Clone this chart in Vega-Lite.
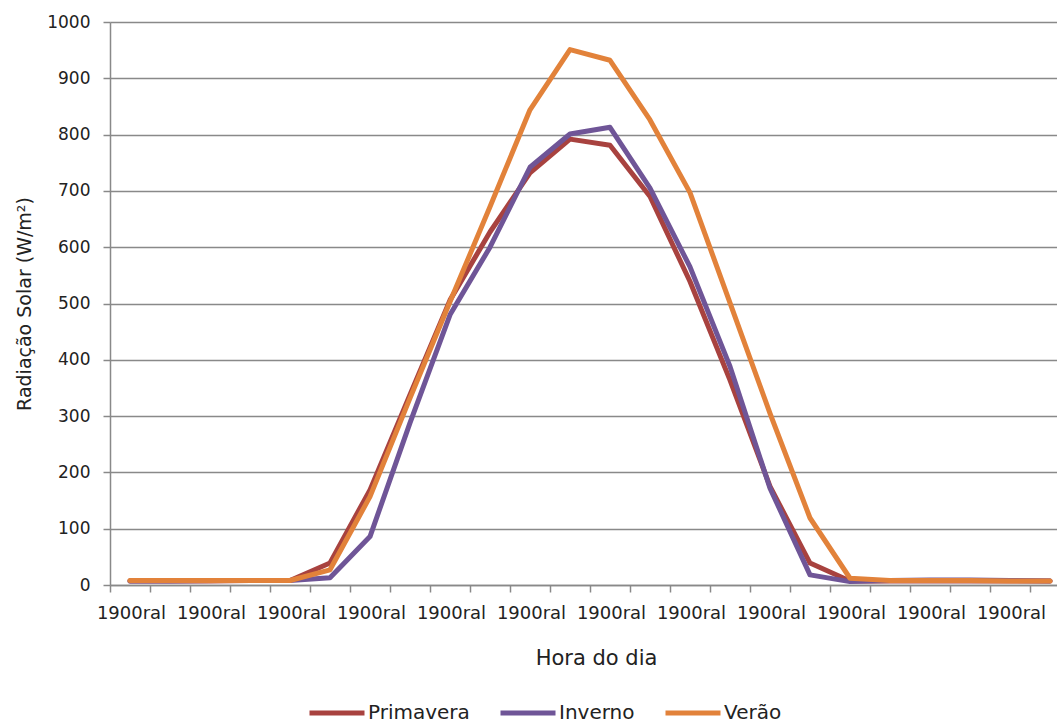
{
  "$schema": "https://vega.github.io/schema/vega-lite/v6.json",
  "width": 947,
  "height": 563,
  "autosize": {"type": "none"},
  "padding": {"left": 110, "top": 22, "right": 0, "bottom": 139},
  "background": "white",
  "config": {
    "font": "DejaVu Sans",
    "view": {"stroke": null},
    "axis": {"labelColor": "#222222", "titleColor": "#222222", "titleFontWeight": "normal", "domainColor": "#898989", "tickColor": "#898989", "gridColor": "#898989"}
  },
  "data": {
    "values": [
      {"h": 0, "serie": "Primavera", "v": 7}, {"h": 1, "serie": "Primavera", "v": 7}, {"h": 2, "serie": "Primavera", "v": 7}, {"h": 3, "serie": "Primavera", "v": 8}, {"h": 4, "serie": "Primavera", "v": 8}, {"h": 5, "serie": "Primavera", "v": 39}, {"h": 6, "serie": "Primavera", "v": 169}, {"h": 7, "serie": "Primavera", "v": 338}, {"h": 8, "serie": "Primavera", "v": 506}, {"h": 9, "serie": "Primavera", "v": 627}, {"h": 10, "serie": "Primavera", "v": 732}, {"h": 11, "serie": "Primavera", "v": 792}, {"h": 12, "serie": "Primavera", "v": 781}, {"h": 13, "serie": "Primavera", "v": 690}, {"h": 14, "serie": "Primavera", "v": 539}, {"h": 15, "serie": "Primavera", "v": 364}, {"h": 16, "serie": "Primavera", "v": 175}, {"h": 17, "serie": "Primavera", "v": 39}, {"h": 18, "serie": "Primavera", "v": 7}, {"h": 19, "serie": "Primavera", "v": 7}, {"h": 20, "serie": "Primavera", "v": 7}, {"h": 21, "serie": "Primavera", "v": 7}, {"h": 22, "serie": "Primavera", "v": 7}, {"h": 23, "serie": "Primavera", "v": 7},
      {"h": 0, "serie": "Inverno", "v": 7}, {"h": 1, "serie": "Inverno", "v": 7}, {"h": 2, "serie": "Inverno", "v": 8}, {"h": 3, "serie": "Inverno", "v": 8}, {"h": 4, "serie": "Inverno", "v": 8}, {"h": 5, "serie": "Inverno", "v": 13}, {"h": 6, "serie": "Inverno", "v": 86}, {"h": 7, "serie": "Inverno", "v": 288}, {"h": 8, "serie": "Inverno", "v": 480}, {"h": 9, "serie": "Inverno", "v": 600}, {"h": 10, "serie": "Inverno", "v": 742}, {"h": 11, "serie": "Inverno", "v": 801}, {"h": 12, "serie": "Inverno", "v": 813}, {"h": 13, "serie": "Inverno", "v": 705}, {"h": 14, "serie": "Inverno", "v": 565}, {"h": 15, "serie": "Inverno", "v": 388}, {"h": 16, "serie": "Inverno", "v": 172}, {"h": 17, "serie": "Inverno", "v": 18}, {"h": 18, "serie": "Inverno", "v": 6}, {"h": 19, "serie": "Inverno", "v": 8}, {"h": 20, "serie": "Inverno", "v": 9}, {"h": 21, "serie": "Inverno", "v": 9}, {"h": 22, "serie": "Inverno", "v": 8}, {"h": 23, "serie": "Inverno", "v": 7},
      {"h": 0, "serie": "Verão", "v": 8}, {"h": 1, "serie": "Verão", "v": 8}, {"h": 2, "serie": "Verão", "v": 8}, {"h": 3, "serie": "Verão", "v": 8}, {"h": 4, "serie": "Verão", "v": 8}, {"h": 5, "serie": "Verão", "v": 27}, {"h": 6, "serie": "Verão", "v": 157}, {"h": 7, "serie": "Verão", "v": 332}, {"h": 8, "serie": "Verão", "v": 503}, {"h": 9, "serie": "Verão", "v": 672}, {"h": 10, "serie": "Verão", "v": 844}, {"h": 11, "serie": "Verão", "v": 951}, {"h": 12, "serie": "Verão", "v": 932}, {"h": 13, "serie": "Verão", "v": 826}, {"h": 14, "serie": "Verão", "v": 697}, {"h": 15, "serie": "Verão", "v": 501}, {"h": 16, "serie": "Verão", "v": 305}, {"h": 17, "serie": "Verão", "v": 119}, {"h": 18, "serie": "Verão", "v": 12}, {"h": 19, "serie": "Verão", "v": 8}, {"h": 20, "serie": "Verão", "v": 8}, {"h": 21, "serie": "Verão", "v": 8}, {"h": 22, "serie": "Verão", "v": 7}, {"h": 23, "serie": "Verão", "v": 7}
    ]
  },
  "mark": {"type": "line", "strokeWidth": 5, "strokeCap": "round", "strokeJoin": "round", "clip": false},
  "encoding": {
    "x": {
      "field": "h", "type": "quantitative",
      "scale": {"domain": [-0.5, 23.175], "nice": false, "zero": false},
      "axis": {
        "title": "Hora do dia", "titleFontSize": 21, "titlePadding": 25, "titleX": 486,
        "values": [-0.5, 0.5, 1.5, 2.5, 3.5, 4.5, 5.5, 6.5, 7.5, 8.5, 9.5, 10.5, 11.5, 12.5, 13.5, 14.5, 15.5, 16.5, 17.5, 18.5, 19.5, 20.5, 21.5, 22.5],
        "labelExpr": "(datum.value + 0.5) % 2 == 0 ? '1900ral' : ''",
        "labelOffset": 21, "labelFlush": false, "labelBound": false, "labelOverlap": false,
        "labelFontSize": 18, "labelPadding": 12, "tickSize": 7, "tickWidth": 1.5, "domainWidth": 1.5, "grid": false
      }
    },
    "y": {
      "field": "v", "type": "quantitative",
      "scale": {"domain": [0, 1000], "nice": false},
      "axis": {
        "title": "Radiação Solar (W/m²)", "titleFontSize": 19, "titlePadding": 12,
        "values": [0, 100, 200, 300, 400, 500, 600, 700, 800, 900, 1000], "format": "d",
        "labelFontSize": 17, "labelPadding": 13, "tickSize": 7, "tickWidth": 1.5, "domainWidth": 1.5,
        "grid": true, "gridWidth": 1.5
      }
    },
    "color": {
      "field": "serie", "type": "nominal",
      "scale": {"domain": ["Primavera", "Inverno", "Verão"], "range": ["#A8423F", "#6F5597", "#E2823A"]},
      "legend": {
        "title": null, "orient": "none", "direction": "horizontal", "legendX": 197, "legendY": 661,
        "symbolType": "stroke", "symbolSize": 3025, "symbolStrokeWidth": 5, "labelFontSize": 20, "labelColor": "#222222",
        "labelOffset": 1, "columnPadding": 20
      }
    }
  }
}
